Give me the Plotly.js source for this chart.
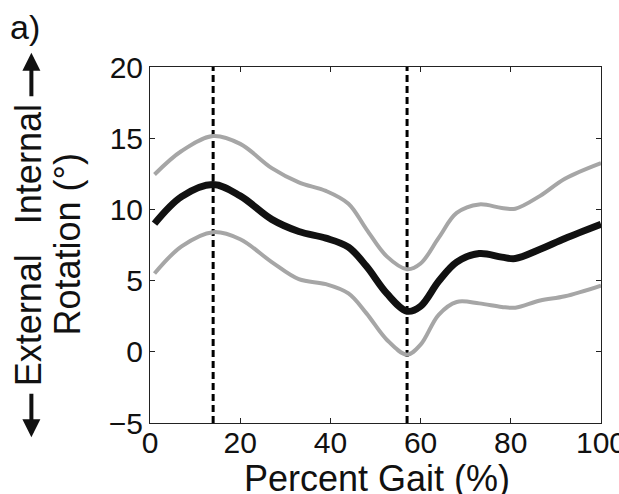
<!DOCTYPE html>
<html>
<head>
<meta charset="utf-8">
<script src="https://cdn.plot.ly/plotly-3.0.1.min.js"></script>
<style>html,body{margin:0;padding:0;background:#fff;}#chart{width:619px;height:494px;}</style>
</head>
<body>
<div id="chart"></div>
<script>
// Percent of gait cycle
const gaitPct = [1, 7, 14, 20, 27, 33, 39, 44, 48, 52.5, 57, 60, 64, 68, 73, 78, 81, 86.5, 92, 100];
// Mean rotation (deg)
const meanRot = [9.0, 10.9, 11.75, 10.95, 9.3, 8.45, 7.98, 7.35, 6.0, 4.1, 2.85, 3.2, 4.95, 6.3, 6.9, 6.65, 6.55, 7.2, 7.95, 8.95];
// Mean + 1 SD
const upperRot = [12.45, 14.1, 15.15, 14.6, 12.9, 11.9, 11.3, 10.4, 8.6, 6.7, 5.8, 6.2, 8.0, 9.75, 10.35, 10.1, 10.05, 10.95, 12.15, 13.25];
// Mean - 1 SD
const lowerRot = [5.5, 7.4, 8.4, 7.9, 6.3, 5.1, 4.75, 4.1, 2.7, 0.85, -0.2, 0.5, 2.6, 3.5, 3.4, 3.15, 3.1, 3.6, 3.9, 4.65];
// Gait events (dashed vertical lines)
const eventPct = [14, 57];
const yRange = [-5, 20];
const xTicks = [0, 20, 40, 60, 80, 100];
const yTicks = [-5, 0, 5, 10, 15, 20];

const FONT = 'Liberation Sans, Arial, Helvetica, sans-serif';
const traces = [];
eventPct.forEach(e => traces.push({
  x: [e, e], y: yRange, mode: 'lines', hoverinfo: 'skip',
  line: {color: '#000', width: 3, dash: '7px,4px'}
}));
traces.push({x: gaitPct, y: upperRot, mode: 'lines', line: {color: '#a6a6a6', width: 4, shape: 'spline', smoothing: 1}});
traces.push({x: gaitPct, y: lowerRot, mode: 'lines', line: {color: '#a6a6a6', width: 4, shape: 'spline', smoothing: 1}});
traces.push({x: gaitPct, y: meanRot, mode: 'lines', line: {color: '#111', width: 7, shape: 'spline', smoothing: 1}});

const layout = {
  width: 619, height: 494,
  margin: {l: 150, r: 18, t: 67, b: 71},
  paper_bgcolor: '#fff', plot_bgcolor: '#fff',
  showlegend: false,
  font: {family: FONT, color: '#111', size: 30},
  xaxis: {
    range: [0, 100], tickvals: xTicks, ticks: 'inside', ticklen: 5, tickcolor: '#222',
    showline: true, linecolor: '#222', linewidth: 1, mirror: 'ticks',
    showgrid: false, zeroline: false, tickfont: {size: 30},
    ticklabeloverflow: 'allow', ticklabelstandoff: -7
  },
  yaxis: {
    range: yRange, tickvals: yTicks, ticks: 'inside', ticklen: 5, tickcolor: '#222',
    showline: true, linecolor: '#222', linewidth: 1, mirror: 'ticks',
    showgrid: false, zeroline: false, tickfont: {size: 30}, ticklabeloverflow: 'allow'
  },
  annotations: [
    {text: 'a)', xref: 'paper', yref: 'paper', x: -0.315, y: 1.112, xanchor: 'left', yanchor: 'middle',
     showarrow: false, font: {size: 34}},
    {text: 'Percent Gait (%)', xref: 'paper', yref: 'paper', x: 0.503, y: -0.094, xanchor: 'center', yanchor: 'top',
     showarrow: false, font: {size: 36}},
    {text: 'External   Internal', xref: 'paper', yref: 'paper', x: -0.27, y: 0.5, xanchor: 'center', yanchor: 'middle',
     textangle: -90, showarrow: false, font: {size: 36}},
    {text: 'Rotation (°)', xref: 'paper', yref: 'paper', x: -0.185, y: 0.5, xanchor: 'center', yanchor: 'middle',
     textangle: -90, showarrow: false, font: {size: 36}},
    {x: -0.263, y: 1.04, xref: 'paper', yref: 'paper', ax: 0, ay: 45, axref: 'pixel', ayref: 'pixel',
     showarrow: true, arrowhead: 2, arrowsize: 0.9, arrowwidth: 4, arrowcolor: '#111', text: ''},
    {x: -0.263, y: -0.04, xref: 'paper', yref: 'paper', ax: 0, ay: -45, axref: 'pixel', ayref: 'pixel',
     showarrow: true, arrowhead: 2, arrowsize: 0.9, arrowwidth: 4, arrowcolor: '#111', text: ''}
  ]
};
Plotly.newPlot('chart', traces, layout, {staticPlot: true, displayModeBar: false});
</script>
</body>
</html>
